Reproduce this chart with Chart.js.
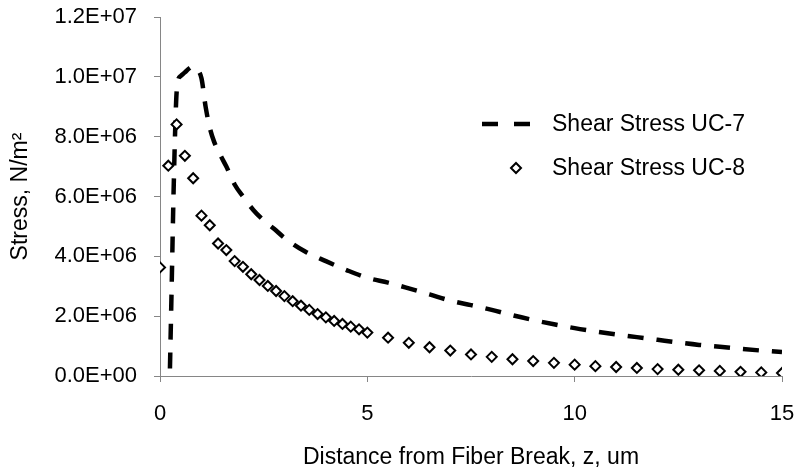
<!DOCTYPE html>
<html>
<head>
<meta charset="utf-8">
<title>Shear stress along fiber</title>
<script src="https://cdn.jsdelivr.net/npm/chart.js@4.4.1/dist/chart.umd.min.js"></script>
<style>
  html, body { margin: 0; padding: 0; background: #fff; }
  #wrap { width: 796px; height: 469px; position: relative; }
</style>
</head>
<body>
<div id="wrap"><canvas id="c" width="796" height="469"></canvas></div>
<script>
// Distance from the fiber break (um) and shear stress (N/m^2)
const zUC7 = [0.24, 0.28, 0.33, 0.39, 0.43, 0.5, 0.6, 0.7, 0.8, 0.9, 1.0, 1.1, 1.2, 1.3, 1.45, 1.6, 1.8, 2.0, 2.25, 2.5, 2.75, 3.0,
              3.5, 4.0, 4.5, 5.0, 5.5, 6.0, 6.5, 7.0, 7.5, 8.0, 8.5, 9.0, 9.5, 10, 10.5, 11, 11.5, 12, 12.5, 13, 13.5, 14, 14.5, 15];
const stressUC7 = [0.25e6, 2.9e6, 6.3e6, 9.2e6, 9.85e6, 10.03e6, 10.15e6, 10.28e6, 10.35e6, 10.25e6, 9.95e6, 9.0e6, 8.3e6, 7.85e6,
                   7.4e6, 7.0e6, 6.4e6, 6.0e6, 5.55e6, 5.2e6, 4.92e6, 4.62e6, 4.16e6, 3.84e6, 3.54e6, 3.28e6, 3.12e6, 2.93e6,
                   2.73e6, 2.52e6, 2.37e6, 2.21e6, 2.03e6, 1.87e6, 1.73e6, 1.6e6, 1.49e6, 1.39e6, 1.3e6, 1.21e6, 1.12e6,
                   1.04e6, 0.98e6, 0.91e6, 0.85e6, 0.8e6];

const zUC8 = [0, 0.2, 0.4, 0.6, 0.8, 1.0, 1.2, 1.4, 1.6, 1.8, 2.0, 2.2, 2.4, 2.6, 2.8, 3.0, 3.2, 3.4, 3.6, 3.8, 4.0, 4.2, 4.4, 4.6,
              4.8, 5.0, 5.5, 6.0, 6.5, 7.0, 7.5, 8.0, 8.5, 9.0, 9.5, 10, 10.5, 11, 11.5, 12, 12.5, 13, 13.5, 14, 14.5, 15];
const stressUC8 = [3.63e6, 7.03e6, 8.41e6, 7.36e6, 6.61e6, 5.36e6, 5.04e6, 4.43e6, 4.21e6, 3.84e6, 3.65e6, 3.40e6, 3.21e6, 3.01e6,
                   2.84e6, 2.67e6, 2.50e6, 2.35e6, 2.21e6, 2.07e6, 1.96e6, 1.84e6, 1.74e6, 1.65e6, 1.56e6, 1.45e6, 1.28e6,
                   1.11e6, 0.96e6, 0.85e6, 0.72e6, 0.64e6, 0.56e6, 0.50e6, 0.44e6, 0.38e6, 0.33e6, 0.30e6, 0.27e6, 0.23e6,
                   0.21e6, 0.19e6, 0.17e6, 0.14e6, 0.12e6, 0.10e6];

const seriesNames = ['Shear Stress UC-7', 'Shear Stress UC-8'];
const xTitle = 'Distance from Fiber Break, z, um';
const yTitle = 'Stress, N/m\u00B2';

const FONT = '"Liberation Sans", Arial, sans-serif';
const AXIS_GREY = '#868686';
const DASH = [16, 13];
const DASH_WIDTH = 4.5;

// 2.0E+06 style labels
function sciLabel(v) {
  if (Math.abs(v) < 1e-9) return '0.0E+00';
  let e = Math.floor(Math.log10(v) + 1e-12);
  let m = v / Math.pow(10, e);
  if (Number(m.toFixed(1)) >= 10) { m /= 10; e += 1; }
  return m.toFixed(1) + 'E+' + String(e).padStart(2, '0');
}

const toPoints = (xs, ys) => xs.map((x, i) => ({ x: x, y: ys[i] }));

// Legend drawn inside the plot area at the upper right
const insideLegend = {
  id: 'insideLegend',
  afterDraw(chart) {
    const ctx = chart.ctx;
    ctx.save();
    ctx.font = '23px ' + FONT;
    ctx.fillStyle = '#000';
    ctx.textBaseline = 'middle';
    ctx.textAlign = 'left';
    // dashed sample
    ctx.strokeStyle = '#000';
    ctx.lineWidth = DASH_WIDTH;
    ctx.beginPath();
    ctx.moveTo(482, 124);
    ctx.lineTo(498, 124);
    ctx.moveTo(514, 124);
    ctx.lineTo(530, 124);
    ctx.stroke();
    ctx.fillText(chart.data.datasets[0].label, 552, 125);
    // diamond sample
    const cx = 516, cy = 168, r = 5;
    ctx.beginPath();
    ctx.moveTo(cx - r, cy);
    ctx.lineTo(cx, cy - r);
    ctx.lineTo(cx + r, cy);
    ctx.lineTo(cx, cy + r);
    ctx.closePath();
    ctx.fillStyle = '#fff';
    ctx.fill();
    ctx.lineWidth = 2;
    ctx.stroke();
    ctx.fillStyle = '#000';
    ctx.fillText(chart.data.datasets[1].label, 552, 169);
    ctx.restore();
  }
};

new Chart(document.getElementById('c'), {
  type: 'scatter',
  data: {
    datasets: [
      {
        label: seriesNames[0],
        data: toPoints(zUC7, stressUC7),
        showLine: true,
        borderColor: '#000',
        borderWidth: DASH_WIDTH,
        borderDash: DASH,
        borderCapStyle: 'butt',
        cubicInterpolationMode: 'monotone',
        pointRadius: 0,
        pointHoverRadius: 0,
        fill: false,
        order: 1
      },
      {
        label: seriesNames[1],
        data: toPoints(zUC8, stressUC8),
        showLine: false,
        pointStyle: 'rectRot',
        pointRadius: 5,
        pointBorderWidth: 2,
        pointBorderColor: '#000',
        pointBackgroundColor: '#fff',
        order: 0
      }
    ]
  },
  options: {
    responsive: false,
    animation: false,
    events: [],
    layout: { padding: { top: 17, right: 14, left: 0, bottom: 0 } },
    plugins: {
      legend: { display: false },
      tooltip: { enabled: false }
    },
    scales: {
      x: {
        type: 'linear',
        min: 0,
        max: 15,
        afterFit: s => { s.height = 93; s.paddingLeft = 0; s.paddingRight = 0; },
        ticks: {
          stepSize: 5,
          padding: 19,
          color: '#000',
          font: { family: FONT, size: 22 },
          maxRotation: 0
        },
        grid: { display: true, drawOnChartArea: false, drawTicks: true, tickLength: 6, color: AXIS_GREY },
        border: { display: true, color: AXIS_GREY, width: 1 },
        title: {
          display: true,
          text: xTitle,
          color: '#000',
          font: { family: FONT, size: 23, lineHeight: 1 },
          padding: { top: 0, bottom: 0 }
        }
      },
      y: {
        type: 'linear',
        min: 0,
        max: 1.2e7,
        afterFit: s => { s.width = 160; s.paddingTop = 0; s.paddingBottom = 0; },
        ticks: {
          stepSize: 2e6,
          padding: 17,
          color: '#000',
          font: { family: FONT, size: 22 },
          callback: v => sciLabel(v)
        },
        grid: { display: true, drawOnChartArea: false, drawTicks: true, tickLength: 6, color: AXIS_GREY },
        border: { display: true, color: AXIS_GREY, width: 1 },
        title: {
          display: true,
          text: yTitle,
          color: '#000',
          font: { family: FONT, size: 23, lineHeight: 1 },
          padding: { top: 9, bottom: 0 }
        }
      }
    }
  },
  plugins: [insideLegend]
});
</script>
</body>
</html>
